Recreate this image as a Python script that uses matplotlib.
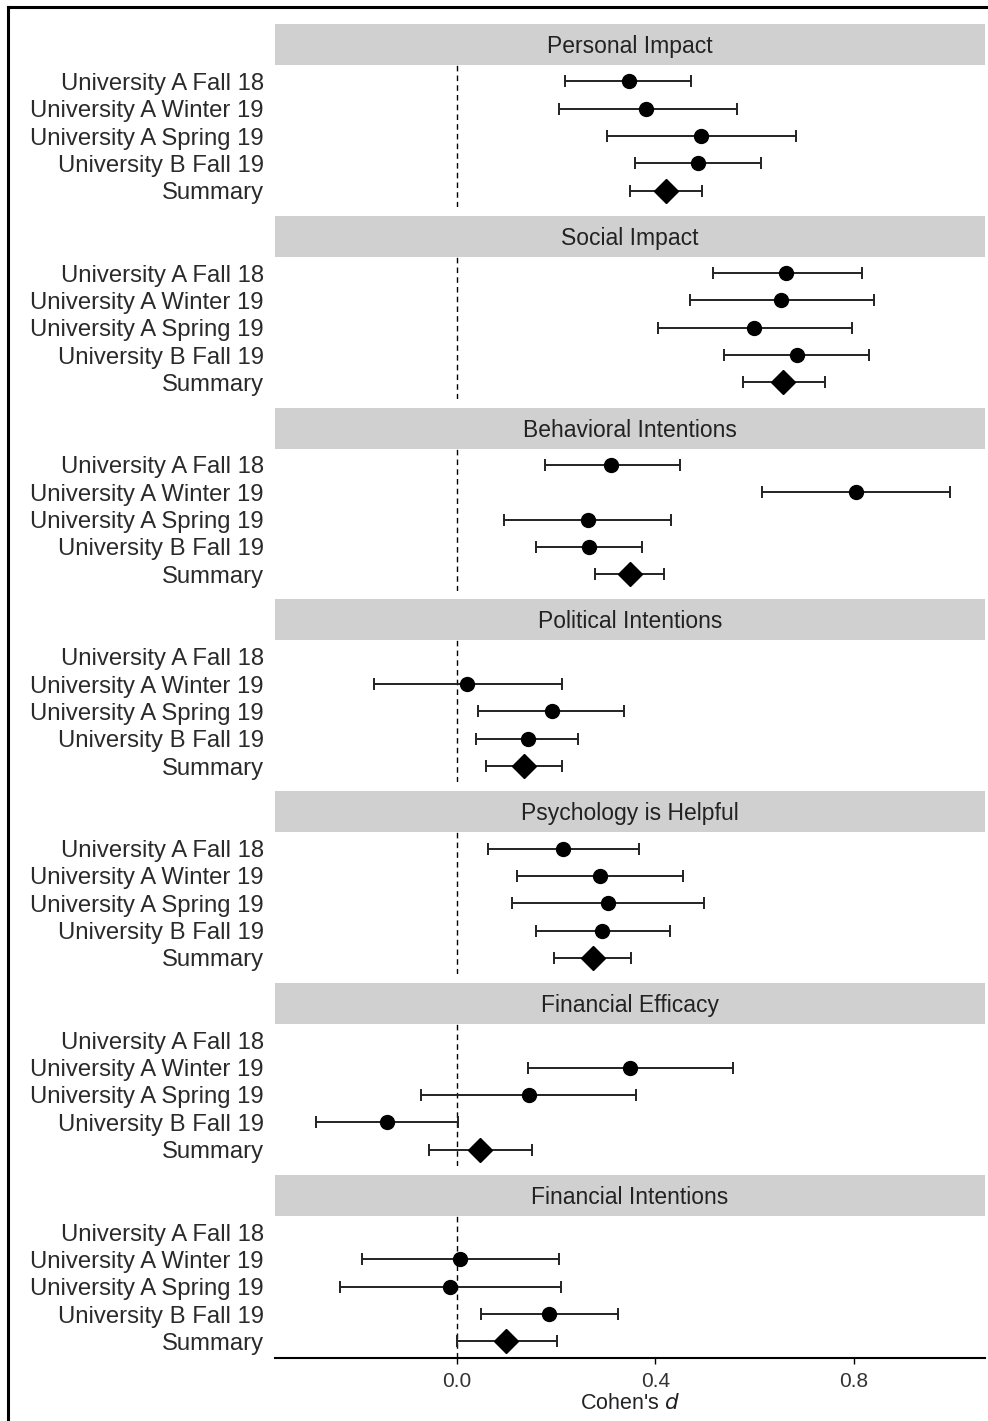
import numpy as np
import matplotlib
matplotlib.use("Agg")
import matplotlib.pyplot as plt
from matplotlib.lines import Line2D

plt.rcParams['font.family'] = ['Liberation Sans', 'DejaVu Sans']

# data (Cohen's d with 95% CI)
studies = ["University A Fall 18", "University A Winter 19", "University A Spring 19",
           "University B Fall 19", "Summary"]
outcomes = ["Personal Impact", "Social Impact", "Behavioral Intentions",
            "Political Intentions", "Psychology is Helpful", "Financial Efficacy",
            "Financial Intentions"]
nan = np.nan
est = [[0.346, 0.382, 0.492, 0.485, 0.422],
       [0.664, 0.653, 0.599, 0.685, 0.658],
       [0.310, 0.805, 0.265, 0.266, 0.350],
       [nan, 0.020, 0.191, 0.143, 0.136],
       [0.214, 0.288, 0.305, 0.293, 0.274],
       [nan, 0.348, 0.145, -0.141, 0.046],
       [nan, 0.007, -0.014, 0.186, 0.099]]
lower = [[0.218, 0.206, 0.303, 0.359, 0.350],
         [0.516, 0.469, 0.406, 0.539, 0.577],
         [0.177, 0.615, 0.096, 0.159, 0.279],
         [nan, -0.166, 0.043, 0.038, 0.058],
         [0.064, 0.122, 0.112, 0.159, 0.195],
         [nan, 0.143, -0.071, -0.284, -0.056],
         [nan, -0.190, -0.235, 0.048, 0.000]]
upper = [[0.472, 0.565, 0.683, 0.612, 0.495],
         [0.817, 0.841, 0.796, 0.830, 0.741],
         [0.450, 0.994, 0.432, 0.374, 0.418],
         [nan, 0.212, 0.337, 0.245, 0.212],
         [0.367, 0.455, 0.499, 0.429, 0.352],
         [nan, 0.557, 0.361, 0.002, 0.151],
         [nan, 0.206, 0.210, 0.324, 0.201]]
xticks = [0.0, 0.4, 0.8]

W, H = 988, 1421
fig = plt.figure(figsize=(W / 100, H / 100), dpi=100)

# outer frame (top and left only visible)
fig.add_artist(Line2D([8 / W, 1], [1 - 7 / H, 1 - 7 / H], color='black', lw=2.2))
fig.add_artist(Line2D([8 / W, 8 / W], [1 - 7 / H, 0], color='black', lw=2.2))

left, width = 275, 710
ypos = np.arange(len(studies))

for i, name in enumerate(outcomes):
    top = 24 + 191.8 * i
    sax = fig.add_axes([left / W, 1 - (top + 41) / H, width / W, 41 / H])
    sax.set_facecolor('#d0d0d0')
    for s in sax.spines.values():
        s.set_visible(False)
    sax.set_xticks([])
    sax.set_yticks([])
    sax.text(0.5, 0.45, name, ha='center', va='center', fontsize=16.5,
             color='#222222', transform=sax.transAxes)

    ax = fig.add_axes([left / W, 1 - (top + 183) / H, width / W, 142 / H])
    ax.set_xlim(-0.366, 1.064)
    ax.set_ylim(4.6, -0.6)
    ax.axvline(0, color='black', lw=1, dashes=(4, 3))

    e = np.array(est[i])
    lo = np.array(lower[i])
    hi = np.array(upper[i])
    ax.errorbar(e, ypos, xerr=[e - lo, hi - e], fmt='none', ecolor='#222222',
                elinewidth=1.4, capsize=4.5, capthick=1.4)
    ax.plot(e[:4], ypos[:4], 'o', color='black', markersize=10)
    ax.plot(e[4:], ypos[4:], 'D', color='black', markersize=12)

    ax.set_yticks(ypos)
    ax.set_yticklabels(studies, fontsize=17.2, color='#2a2a2a')
    ax.tick_params(axis='y', length=0, pad=8)
    for side in ['left', 'right', 'top']:
        ax.spines[side].set_visible(False)

    if i == len(outcomes) - 1:
        ax.spines['bottom'].set_linewidth(1.5)
        ax.set_xticks(xticks)
        ax.set_xticklabels([f"{t:.1f}" for t in xticks], fontsize=15, color='#333333')
        ax.tick_params(axis='x', length=4, width=1, pad=6)
        ax.set_xlabel("Cohen's $\\it{d}$", fontsize=15.5, color='#222222', labelpad=2)
    else:
        ax.spines['bottom'].set_visible(False)
        ax.set_xticks([])

fig.savefig("out.png", dpi=100)
